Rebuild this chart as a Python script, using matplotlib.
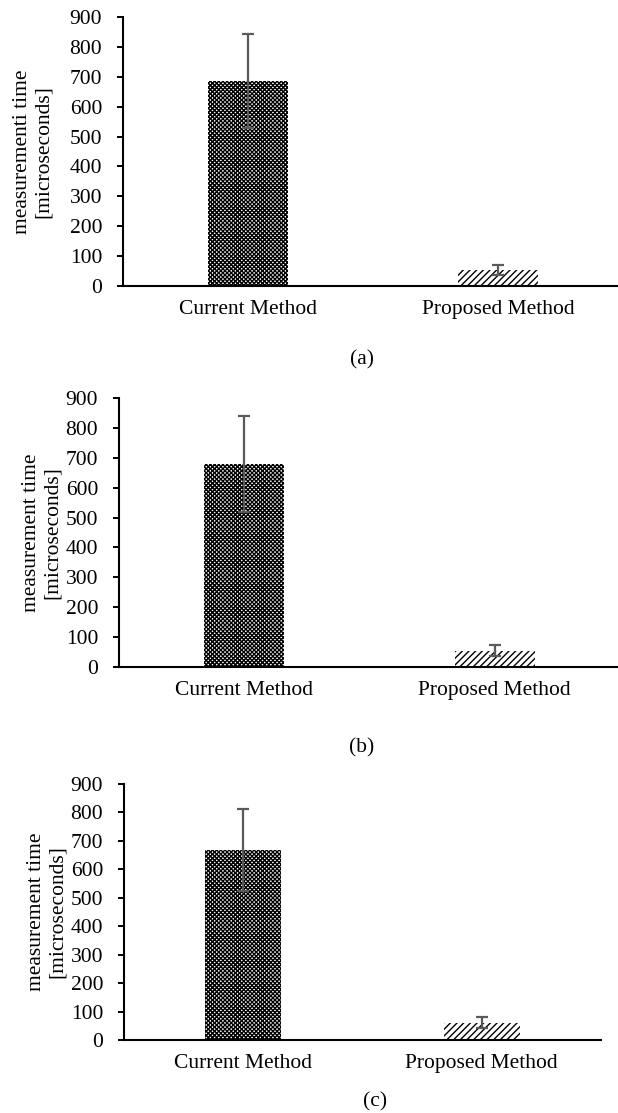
import numpy as np
import matplotlib
matplotlib.use("Agg")
import matplotlib.pyplot as plt

plt.rcParams["font.family"] = ["Liberation Serif", "DejaVu Serif"]
plt.rcParams["hatch.linewidth"] = 1.0

W, H = 618, 1113

categories = ["Current Method", "Proposed Method"]
panel_names = ["(a)", "(b)", "(c)"]
ylabels = ["measurementi time\n[microseconds]",
           "measurement time\n[microseconds]",
           "measurement time\n[microseconds]"]

# mean values and error bars
means_a = [686, 53]
errs_a = [158, 16]
means_b = [680, 55]
errs_b = [160, 18]
means_c = [667, 61]
errs_c = [144, 20]
yticks = [0, 100, 200, 300, 400, 500, 600, 700, 800, 900]

# layout in pixels: left, axis right, y of 0, y of 900, label center x, panel label (x, y)
layout = [
    (123, 623, 286, 17, 33, (362, 360)),
    (119, 620, 667, 398, 42, (362, 748)),
    (124, 601, 1040, 784, 47, (375, 1102)),
]

fig = plt.figure(figsize=(W / 100, H / 100), dpi=100)

for means, errs, ylab, name, (l, r, y0, y1, lx, (px, py)) in zip(
        [means_a, means_b, means_c], [errs_a, errs_b, errs_c],
        ylabels, panel_names, layout):
    ax = fig.add_axes([l / W, (H - y0) / H, (r - l) / W, (y0 - y1) / H])
    x = np.arange(len(categories))
    b = ax.bar(x, means, width=0.32, color="white", edgecolor="black", linewidth=0)
    b[0].set_hatch("xxxxxxxx")
    b[1].set_hatch("/////")
    ax.errorbar(x, means, yerr=errs, fmt="none", ecolor="#5a5a5a",
                elinewidth=1.6, capsize=4, capthick=1.6)
    ax.set_xlim(-0.5, 1.5)
    ax.set_ylim(0, 900)
    ax.set_yticks(yticks)
    ax.set_xticks(x)
    ax.set_xticklabels(categories)
    ax.tick_params(axis="x", length=0, pad=10, labelsize=15.5)
    ax.tick_params(axis="y", length=4, width=1.4, pad=11, labelsize=15.5)
    for s in ["top", "right"]:
        ax.spines[s].set_visible(False)
    for s in ["left", "bottom"]:
        ax.spines[s].set_linewidth(1.5)
    ax.text((lx - l) / (r - l), 0.5, ylab, transform=ax.transAxes,
            rotation=90, ha="center", va="center", multialignment="center",
            fontsize=15.5, linespacing=1.1)
    fig.text(px / W, 1 - py / H, name, ha="center", va="center", fontsize=15.5)

fig.savefig("out.png", dpi=100)
